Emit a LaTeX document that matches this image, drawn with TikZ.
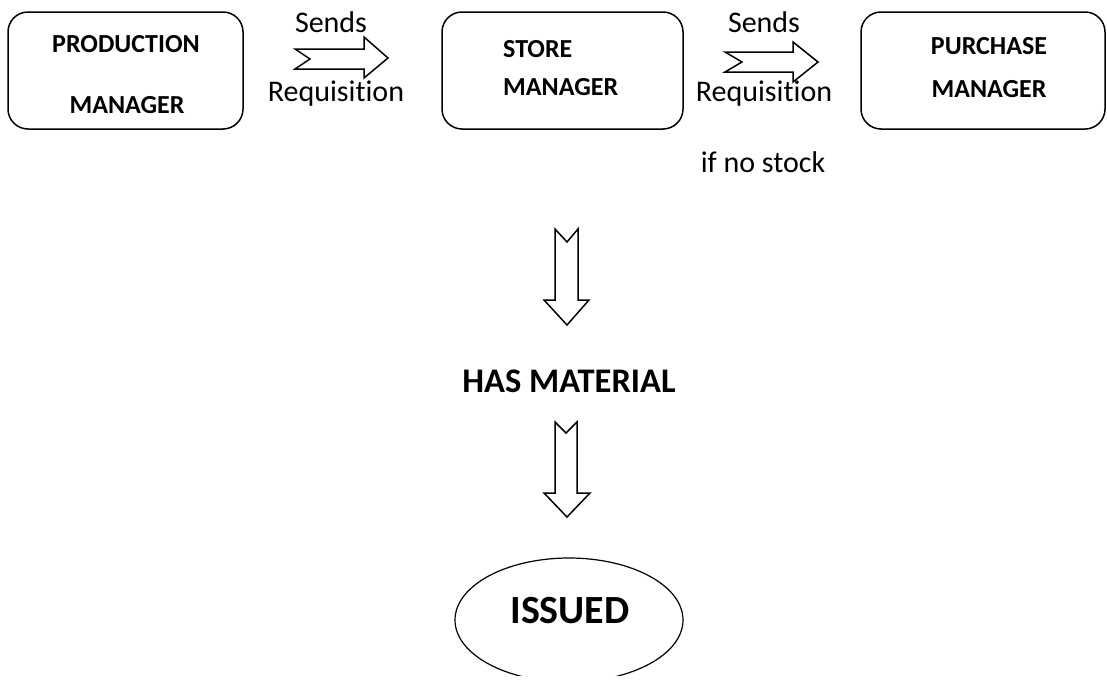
\documentclass[tikz,border=0pt]{standalone}
\usepackage{fontspec}
\setmainfont{Carlito}[Ligatures=NoCommon]
\begin{document}
\begin{tikzpicture}[x=1pt,y=-1pt,
  box/.style={draw=black,line width=1.5pt,rounded corners=20pt},
  blockarrow/.style={draw=black,line width=1.5pt,fill=white,line join=miter},
  boxtext/.style={inner sep=0pt,anchor=base,font=\fontsize{26}{30}\selectfont\bfseries},
  lbl/.style={inner sep=0pt,anchor=base,font=\fontsize{30}{36}\selectfont}]
\useasboundingbox (0,0) rectangle (1107,683);
% boxes
\draw[box] (8,12) rectangle (243,129);
\node[inner sep=0pt] (prod) at (125.5,70.5) {};
\draw[box] (442,12) rectangle (683,129);
\node[inner sep=0pt] (store) at (562.5,70.5) {};
\draw[box] (861,12) rectangle (1105,129);
\node[inner sep=0pt] (purch) at (983,70.5) {};
% box texts
\node[boxtext] (t1) at (126,52) {PRODUCTION};
\node[boxtext] (t2) at (127,113) {MANAGER};
\node[boxtext,anchor=base west] (t3) at (503,57) {STORE};
\node[boxtext,anchor=base west] (t4) at (503,95) {MANAGER};
\node[boxtext] (t5) at (989,54) {PURCHASE};
\node[boxtext] (t6) at (989,97) {MANAGER};
% right block arrows
\draw[blockarrow] (295,49) -- (364,49) -- (364,37) -- (388,58) -- (364,78) -- (364,69) -- (295,69) -- (310,59) -- cycle;
\node[lbl] (s1) at (331,32) {Sends};
\node[lbl] (r1) at (336,101) {Requisition};
\draw[blockarrow] (725,52) -- (793,52) -- (793,42) -- (818,62) -- (793,82) -- (793,72) -- (725,72) -- (742,62) -- cycle;
\node[lbl] (s2) at (764,32) {Sends};
\node[lbl] (r2) at (764,101) {Requisition};
\node[lbl] (ns) at (763,172) {if no stock};
% down block arrows
\draw[blockarrow] (555,229) -- (567,242) -- (578,229) -- (578,300) -- (589,300) -- (567,325) -- (544,300) -- (555,300) -- cycle;
\node[inner sep=0pt,anchor=base,font=\fontsize{34.5}{40}\selectfont\bfseries] (has) at (569,392) {HAS MATERIAL};
\draw[blockarrow] (555,422) -- (566,433) -- (577,422) -- (577,493) -- (590,493) -- (567,517) -- (544,493) -- (555,493) -- cycle;
% ellipse
\begin{scope}
\clip (0,0) rectangle (1107,675);
\draw[line width=1.2pt] (569,620) ellipse [x radius=114, y radius=62];
\end{scope}
\node[inner sep=0pt,anchor=base,font=\fontsize{40}{48}\selectfont\bfseries] (iss) at (570,623) {ISSUED};
\end{tikzpicture}
\end{document}
